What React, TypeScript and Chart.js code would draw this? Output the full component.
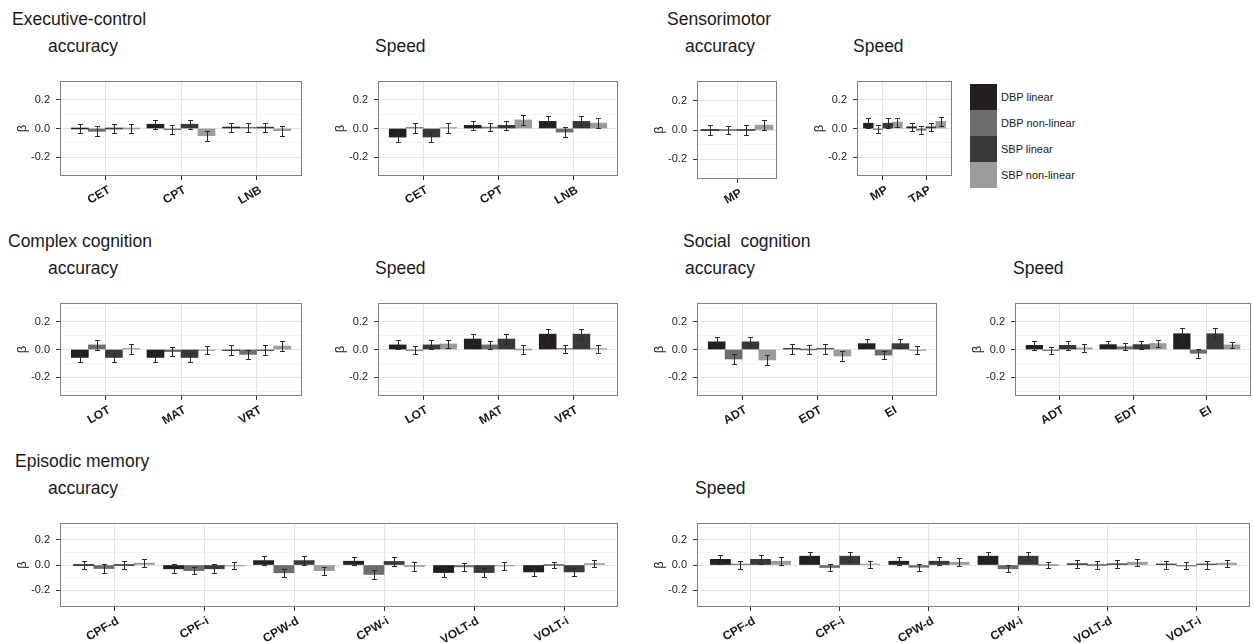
import React, { useEffect, useRef } from "react";
import { Chart, registerables } from "chart.js";

Chart.register(...registerables);

// ---------- data ----------
const seriesNames = ["DBP linear", "DBP non-linear", "SBP linear", "SBP non-linear"];
const seriesColors = ["#231f20", "#6d6d6d", "#393939", "#9c9c9c"];

const yMajorTicks = [-0.2, 0, 0.2];
const yMinorTicks = [-0.3, -0.1, 0.1, 0.3];

const execCats = ["CET", "CPT", "LNB"];
const execAccBeta = [
  [0.0, 0.03, 0.01],
  [-0.02, -0.008, 0.008],
  [0.0, 0.03, 0.01],
  [0.0, -0.05, -0.015],
];
const execAccErr = [
  [0.033, 0.033, 0.032],
  [0.035, 0.03, 0.032],
  [0.033, 0.033, 0.032],
  [0.035, 0.035, 0.035],
];
const execSpdBeta = [
  [-0.06, 0.022, 0.05],
  [0.002, 0.01, -0.025],
  [-0.06, 0.022, 0.05],
  [0.002, 0.06, 0.038],
];
const execSpdErr = [
  [0.032, 0.033, 0.037],
  [0.037, 0.03, 0.035],
  [0.032, 0.033, 0.037],
  [0.037, 0.037, 0.037],
];

const sensAccCats = ["MP"];
const sensAccBeta = [[0.0], [0.0], [0.0], [0.033]];
const sensAccErr = [[0.035], [0.03], [0.035], [0.032]];
const sensSpdCats = ["MP", "TAP"];
const sensSpdBeta = [
  [0.037, 0.012],
  [-0.005, -0.012],
  [0.037, 0.012],
  [0.045, 0.05],
];
const sensSpdErr = [
  [0.035, 0.03],
  [0.03, 0.027],
  [0.035, 0.03],
  [0.032, 0.03],
];

const complexCats = ["LOT", "MAT", "VRT"];
const complexAccBeta = [
  [-0.057, -0.057, -0.003],
  [0.033, -0.015, -0.035],
  [-0.057, -0.057, -0.003],
  [0.003, -0.005, 0.025],
];
const complexAccErr = [
  [0.035, 0.033, 0.035],
  [0.033, 0.03, 0.03],
  [0.035, 0.033, 0.035],
  [0.033, 0.03, 0.035],
];
const complexSpdBeta = [
  [0.033, 0.075, 0.11],
  [-0.005, 0.033, 0.003],
  [0.033, 0.075, 0.11],
  [0.04, 0.0, 0.003],
];
const complexSpdErr = [
  [0.032, 0.035, 0.035],
  [0.027, 0.03, 0.027],
  [0.032, 0.035, 0.035],
  [0.03, 0.035, 0.028],
];

const socialCats = ["ADT", "EDT", "EI"];
const socialAccBeta = [
  [0.055, 0.005, 0.042],
  [-0.068, 0.0, -0.04],
  [0.055, 0.005, 0.042],
  [-0.075, -0.047, -0.002],
];
const socialAccErr = [
  [0.032, 0.035, 0.032],
  [0.033, 0.03, 0.03],
  [0.032, 0.035, 0.032],
  [0.035, 0.035, 0.03],
];
const socialSpdBeta = [
  [0.03, 0.035, 0.113],
  [-0.004, 0.02, -0.027],
  [0.03, 0.035, 0.113],
  [0.012, 0.043, 0.033],
];
const socialSpdErr = [
  [0.03, 0.027, 0.04],
  [0.025, 0.025, 0.031],
  [0.03, 0.028, 0.04],
  [0.027, 0.027, 0.022],
];

const episodicCats = ["CPF-d", "CPF-i", "CPW-d", "CPW-i", "VOLT-d", "VOLT-i"];
const episodicAccBeta = [
  [0.0, -0.03, 0.035, 0.03, -0.06, -0.055],
  [-0.028, -0.045, -0.062, -0.075, -0.015, 0.0],
  [0.0, -0.03, 0.035, 0.028, -0.06, -0.055],
  [0.015, -0.003, -0.045, -0.012, -0.008, 0.012],
];
const episodicAccErr = [
  [0.033, 0.037, 0.033, 0.033, 0.035, 0.033],
  [0.033, 0.03, 0.03, 0.037, 0.03, 0.025],
  [0.033, 0.037, 0.033, 0.033, 0.035, 0.035],
  [0.033, 0.028, 0.033, 0.033, 0.03, 0.027],
];
const episodicSpdBeta = [
  [0.045, 0.07, 0.03, 0.07, 0.01, 0.003],
  [0.003, -0.02, -0.018, -0.03, 0.0, -0.003],
  [0.045, 0.07, 0.03, 0.07, 0.01, 0.003],
  [0.03, 0.003, 0.022, 0.0, 0.022, 0.015],
];
const episodicSpdErr = [
  [0.037, 0.035, 0.03, 0.033, 0.03, 0.032],
  [0.032, 0.03, 0.027, 0.028, 0.028, 0.03],
  [0.037, 0.035, 0.03, 0.033, 0.03, 0.032],
  [0.03, 0.027, 0.03, 0.025, 0.027, 0.027],
];

// ---------- style / layout ----------
const FONT = "'Liberation Sans', Arial, Helvetica, sans-serif";
const TEXT = "#1a1a1a";
const GRID_MAJOR = "#e2e2e2";
const GRID_MINOR = "#f3f3f3";
const FRAME = "#7f7f7f";
const TICK = "#333333";
const ERR = "#2a2a2a";
const Y_MIN = -0.333;
const Y_MAX = 0.333;

const AXIS_W = 60;
const PAD_T = 4;
const PAD_R = 8;
const XAXIS_H = 40;

Chart.defaults.font.family = FONT;

type PanelSpec = {
  cats: string[];
  beta: number[][];
  err: number[][];
  left: number;
  top: number;
  w: number;
  h: number;
  expand: number;
};

const panels: PanelSpec[] = [
  { cats: execCats, beta: execAccBeta, err: execAccErr, left: 60, top: 81, w: 242, h: 95, expand: 0.6 },
  { cats: execCats, beta: execSpdBeta, err: execSpdErr, left: 378, top: 81, w: 240, h: 95, expand: 0.6 },
  { cats: sensAccCats, beta: sensAccBeta, err: sensAccErr, left: 697, top: 81, w: 80, h: 98, expand: 0.5 },
  { cats: sensSpdCats, beta: sensSpdBeta, err: sensSpdErr, left: 857, top: 81, w: 95, h: 95, expand: 0.6 },
  { cats: complexCats, beta: complexAccBeta, err: complexAccErr, left: 60, top: 303, w: 242, h: 93, expand: 0.6 },
  { cats: complexCats, beta: complexSpdBeta, err: complexSpdErr, left: 378, top: 303, w: 240, h: 93, expand: 0.6 },
  { cats: socialCats, beta: socialAccBeta, err: socialAccErr, left: 697, top: 303, w: 240, h: 93, expand: 0.6 },
  { cats: socialCats, beta: socialSpdBeta, err: socialSpdErr, left: 1015, top: 303, w: 236, h: 93, expand: 0.6 },
  { cats: episodicCats, beta: episodicAccBeta, err: episodicAccErr, left: 60, top: 523, w: 558, h: 84, expand: 0.6 },
  { cats: episodicCats, beta: episodicSpdBeta, err: episodicSpdErr, left: 697, top: 523, w: 553, h: 84, expand: 0.6 },
];

const titles = [
  { text: "Executive-control", x: 12, base: 25.7 },
  { text: "accuracy", x: 48, base: 53.3 },
  { text: "Speed", x: 375, base: 53.3 },
  { text: "Sensorimotor", x: 667, base: 25.7 },
  { text: "accuracy", x: 685, base: 53.3 },
  { text: "Speed", x: 853, base: 53.3 },
  { text: "Complex cognition", x: 8, base: 247.5 },
  { text: "accuracy", x: 48, base: 275 },
  { text: "Speed", x: 375, base: 275 },
  { text: "Social  cognition", x: 683, base: 247.5 },
  { text: "accuracy", x: 685, base: 275 },
  { text: "Speed", x: 1013, base: 275 },
  { text: "Episodic memory", x: 15, base: 468 },
  { text: "accuracy", x: 48, base: 495 },
  { text: "Speed", x: 695, base: 495 },
];

const isMajor = (v: number) => Math.abs(Math.round(v * 10)) % 2 === 0;

const errorBarPlugin = {
  id: "errorBars",
  afterDatasetsDraw(chart: any) {
    const ctx = chart.ctx;
    const ys = chart.scales.y;
    ctx.save();
    ctx.strokeStyle = ERR;
    ctx.lineWidth = 1;
    chart.data.datasets.forEach((ds: any, d: number) => {
      const meta = chart.getDatasetMeta(d);
      meta.data.forEach((el: any, i: number) => {
        const v = ds.data[i].y;
        const e = ds.errors[i];
        const x = Math.round(el.x) + 0.5;
        const y1 = Math.round(ys.getPixelForValue(v - e)) + 0.5;
        const y2 = Math.round(ys.getPixelForValue(v + e)) + 0.5;
        ctx.beginPath();
        ctx.moveTo(x, y1);
        ctx.lineTo(x, y2);
        ctx.moveTo(x - 2.5, y1);
        ctx.lineTo(x + 2.5, y1);
        ctx.moveTo(x - 2.5, y2);
        ctx.lineTo(x + 2.5, y2);
        ctx.stroke();
      });
    });
    ctx.restore();
  },
};

const framePlugin = {
  id: "panelFrame",
  afterDraw(chart: any) {
    const { ctx, chartArea } = chart;
    const l = Math.round(chartArea.left);
    const t = Math.round(chartArea.top);
    const r = Math.round(chartArea.right);
    const b = Math.round(chartArea.bottom);
    ctx.save();
    ctx.strokeStyle = FRAME;
    ctx.lineWidth = 1;
    ctx.strokeRect(l + 0.5, t + 0.5, r - l - 1, b - t - 1);
    ctx.restore();
  },
};

function Panel({ spec }: { spec: PanelSpec }) {
  const ref = useRef<HTMLCanvasElement | null>(null);
  const cw = spec.w + AXIS_W + PAD_R;
  const ch = PAD_T + spec.h + XAXIS_H;

  useEffect(() => {
    if (!ref.current) return;
    const n = spec.cats.length;
    const unit = spec.w / (n - 1 + 2 * spec.expand);
    const barW = (unit * 0.9) / seriesNames.length;
    const allTicks = [...yMinorTicks, ...yMajorTicks].sort((a, b) => a - b);

    const chart = new Chart(ref.current, {
      type: "bar",
      data: {
        datasets: seriesNames.map((name, s) => ({
          label: name,
          data: spec.cats.map((_, i) => ({ x: i, y: spec.beta[s][i] })),
          errors: spec.err[s],
          backgroundColor: seriesColors[s],
          borderWidth: 0,
          barThickness: barW,
          minBarLength: 1,
        })),
      },
      options: {
        responsive: false,
        animation: false,
        events: [],
        layout: { padding: { top: PAD_T, right: PAD_R, left: 0, bottom: 0 } },
        plugins: { legend: { display: false }, tooltip: { enabled: false } },
        scales: {
          x: {
            type: "linear",
            min: -spec.expand,
            max: n - 1 + spec.expand,
            bounds: "data",
            offset: false,
            afterBuildTicks: (s: any) => {
              s.ticks = spec.cats.map((_, i) => ({ value: i }));
            },
            afterFit: (s: any) => {
              s.height = XAXIS_H;
              s.paddingLeft = 0;
              s.paddingRight = 0;
            },
            grid: {
              offset: false,
              color: GRID_MAJOR,
              lineWidth: 1,
              drawTicks: true,
              tickLength: 4,
              tickColor: TICK,
            },
            border: { display: false },
            ticks: {
              autoSkip: false,
              minRotation: 30,
              maxRotation: 30,
              padding: 3,
              labelOffset: 4,
              color: TEXT,
              font: { family: FONT, size: 12, weight: "bold" },
              callback: (_v: any, idx: number) => spec.cats[idx] ?? "",
            },
          },
          y: {
            type: "linear",
            min: Y_MIN,
            max: Y_MAX,
            bounds: "data",
            afterBuildTicks: (s: any) => {
              s.ticks = allTicks.map((v) => ({ value: v }));
            },
            afterFit: (s: any) => {
              s.width = AXIS_W;
              s.paddingTop = 0;
              s.paddingBottom = 0;
            },
            grid: {
              lineWidth: 1,
              tickLength: 4,
              color: (c: any) => (c.tick && !isMajor(c.tick.value) ? GRID_MINOR : GRID_MAJOR),
              tickColor: (c: any) => (c.tick && !isMajor(c.tick.value) ? "rgba(0,0,0,0)" : TICK),
            },
            border: { display: false },
            ticks: {
              autoSkip: false,
              padding: 6,
              color: TEXT,
              font: { family: FONT, size: 11 },
              callback: (v: any) => (isMajor(Number(v)) ? Number(v).toFixed(1) : ""),
            },
            title: {
              display: true,
              text: "β",
              color: TEXT,
              font: { family: FONT, size: 13, lineHeight: 1 },
              padding: { top: 15.5, bottom: 0 },
            },
          },
        },
      },
      plugins: [errorBarPlugin, framePlugin],
    } as any);
    return () => chart.destroy();
  }, [spec]);

  return (
    <canvas
      ref={ref}
      width={cw}
      height={ch}
      style={{ position: "absolute", left: spec.left - AXIS_W, top: spec.top - PAD_T, width: cw, height: ch }}
    />
  );
}

const TITLE_SIZE = 17.5;
const LEGEND_SIZE = 11;

export default function App() {
  return (
    <div
      style={{
        position: "absolute",
        left: 0,
        top: 0,
        width: 1253,
        height: 643,
        overflow: "hidden",
        background: "#ffffff",
        fontFamily: FONT,
      }}
    >
      {titles.map((t, i) => (
        <div
          key={i}
          style={{
            position: "absolute",
            left: t.x,
            top: t.base - 0.8465 * TITLE_SIZE,
            fontSize: TITLE_SIZE,
            lineHeight: `${TITLE_SIZE}px`,
            color: TEXT,
            whiteSpace: "pre",
          }}
        >
          {t.text}
        </div>
      ))}
      {panels.map((p, i) => (
        <Panel key={i} spec={p} />
      ))}
      {seriesNames.map((name, i) => (
        <React.Fragment key={name}>
          <div
            style={{
              position: "absolute",
              left: 970,
              top: 84 + i * 26,
              width: 27,
              height: 26,
              background: seriesColors[i],
            }}
          />
          <div
            style={{
              position: "absolute",
              left: 1001,
              top: 84 + i * 26 + 13 - 0.49 * LEGEND_SIZE,
              fontSize: LEGEND_SIZE,
              lineHeight: `${LEGEND_SIZE}px`,
              color: TEXT,
              whiteSpace: "pre",
            }}
          >
            {name}
          </div>
        </React.Fragment>
      ))}
    </div>
  );
}
